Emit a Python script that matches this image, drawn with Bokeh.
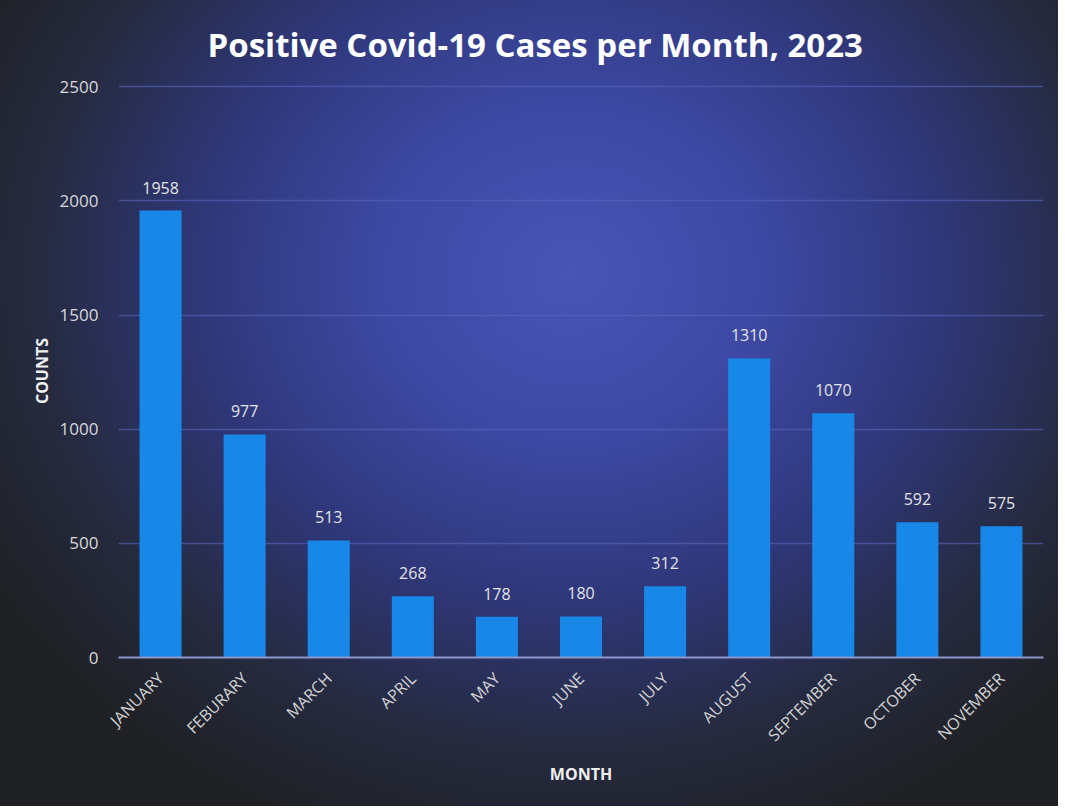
import math
from bokeh.plotting import figure
from bokeh.models import ColumnDataSource, FactorRange, Range1d, FixedTicker
from bokeh.core.properties import value
from bokeh.embed import file_html
from bokeh.resources import INLINE

months = ["JANUARY", "FEBURARY", "MARCH", "APRIL", "MAY", "JUNE", "JULY",
          "AUGUST", "SEPTEMBER", "OCTOBER", "NOVEMBER"]
counts = [1958, 977, 513, 268, 178, 180, 312, 1310, 1070, 592, 575]
y_ticks = [0, 500, 1000, 1500, 2000, 2500]

FONT = "Open Sans"

src = ColumnDataSource(dict(month=months, count=counts,
                            label=[str(c) for c in counts]))

p = figure(width=1058, height=806, output_backend="svg", toolbar_location=None,
           x_range=FactorRange(*months, range_padding=0),
           y_range=Range1d(0, 2510),
           min_border_left=118, min_border_right=15,
           min_border_top=84, min_border_bottom=149,
           title="Positive Covid-19 Cases per Month, 2023")

p.border_fill_color = None
p.background_fill_color = None
p.outline_line_color = None
p.styles = {"background-image":
            "radial-gradient(ellipse 64% 74% at 54% 34%, #4855b6 0%, #3d49a4 28%, "
            "#2f3779 55%, #252a3e 80%, #1f2125 100%)"}

p.title.align = "left"
p.title.offset = 89
p.title.standoff = 36
p.title.text_line_height = 0.9
p.title.text_color = "white"
p.title.text_font = FONT
p.title.text_font_style = "bold"
p.title.text_font_size = "33px"

p.vbar(x="month", top="count", width=0.5, source=src,
       fill_color="#1787e8", line_color=None)

p.text(x="month", y="count", text="label", source=src, y_offset=-17,
       text_align="center", text_baseline="bottom",
       text_font=value(FONT), text_font_size="16px", text_color="#e4e4e4")

# y axis
p.yaxis.ticker = FixedTicker(ticks=y_ticks)
p.yaxis.axis_line_color = None
p.yaxis.major_tick_line_color = None
p.yaxis.minor_tick_line_color = None
p.yaxis.major_label_text_font = FONT
p.yaxis.major_label_text_font_size = "17px"
p.yaxis.major_label_text_color = "#d8d8d8"
p.yaxis.major_label_standoff = 14
p.yaxis.axis_label = "COUNTS"
p.yaxis.axis_label_text_font = FONT
p.yaxis.axis_label_text_font_style = "bold"
p.yaxis.axis_label_text_font_size = "16px"
p.yaxis.axis_label_text_color = "#f0f0f0"
p.yaxis.axis_label_standoff = 4

# x axis
p.xaxis.axis_line_color = "#8c98cc"
p.xaxis.axis_line_width = 2
p.xaxis.major_tick_line_color = None
p.xaxis.minor_tick_line_color = None
p.xaxis.major_label_orientation = math.pi / 4
p.xaxis.major_label_text_font = FONT
p.xaxis.major_label_text_font_size = "16px"
p.xaxis.major_label_text_color = "#d4d4d4"
p.xaxis.major_label_standoff = 12
p.xaxis.axis_label = "MONTH"
p.xaxis.axis_label_text_font = FONT
p.xaxis.axis_label_text_font_style = "bold"
p.xaxis.axis_label_text_font_size = "16px"
p.xaxis.axis_label_text_color = "#f0f0f0"
p.xaxis.axis_label_standoff = 6

p.xgrid.grid_line_color = None
p.ygrid.grid_line_color = "#5866bc"
p.ygrid.grid_line_alpha = 0.6
p.ygrid.grid_line_width = 1.5

open("out.html", "w").write(file_html(p, INLINE))
